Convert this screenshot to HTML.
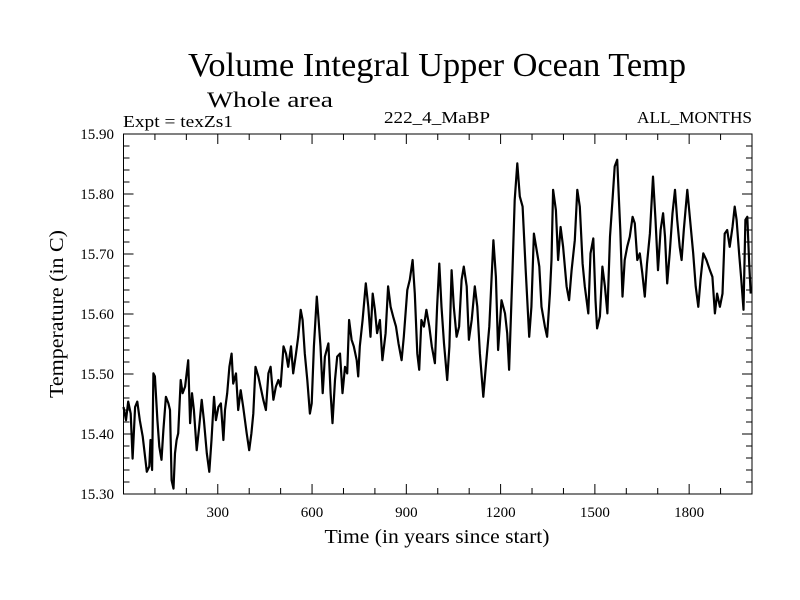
<!DOCTYPE html>
<html><head><meta charset="utf-8"><style>
html,body{margin:0;padding:0;background:#fff;}
svg{display:block;font-family:"Liberation Serif",serif;}
</style></head><body>
<svg id="chart" width="800" height="600" viewBox="0 0 800 600" xmlns="http://www.w3.org/2000/svg">
<rect width="800" height="600" fill="#fff"/>
<text x="188" y="76" font-size="34" textLength="498" lengthAdjust="spacingAndGlyphs">Volume Integral Upper Ocean Temp</text>
<text x="207" y="107" font-size="22" textLength="126" lengthAdjust="spacingAndGlyphs">Whole area</text>
<text x="123" y="127" font-size="17" textLength="110" lengthAdjust="spacingAndGlyphs">Expt = texZs1</text>
<text x="384" y="123" font-size="17" textLength="106" lengthAdjust="spacingAndGlyphs">222_4_MaBP</text>
<text x="637" y="123" font-size="17" textLength="115" lengthAdjust="spacingAndGlyphs">ALL_MONTHS</text>
<g id="axes"></g>
<path id="series" fill="none" stroke="#000" stroke-width="2.2" stroke-linejoin="round"/>
<text x="437" y="543" font-size="20" text-anchor="middle" textLength="225" lengthAdjust="spacingAndGlyphs">Time (in years since start)</text>
<text transform="translate(63,314) rotate(-90)" font-size="20" text-anchor="middle" textLength="168" lengthAdjust="spacingAndGlyphs">Temperature (in C)</text>
</svg>
<script>
const years=[0,8,15,23,29,37,44,52,61,74,82,86,91,95,100,108,114,121,127,135,143,148,153,159,164,169,174,182,188,196,206,212,218,224,233,241,249,256,265,273,280,288,294,302,310,318,323,330,337,344,349,358,365,373,381,392,400,407,413,420,429,436,445,453,461,468,477,485,493,500,509,517,524,533,540,549,556,564,570,577,585,593,599,606,615,621,627,634,641,652,
659,665,673,680,689,697,705,712,718,726,733,742,747,752,761,771,779,786,793,800,807,816,824,834,842,850,858,867,875,885,892,903,911,920,927,935,941,948,956,964,973,981,991,998,1005,1012,1020,1030,1037,1044,1051,1060,1068,1076,1083,1092,1099,1108,1118,1126,1134,1145,1153,1164,1171,1177,1185,1192,1203,1214,1221,1227,1238,1245,1253,1261,1270,1280,1291,1298,1306,1320,
1323,1330,1341,1348,1357,1362,1367,1376,1383,1391,1399,1410,1418,1426,1436,1444,1452,1461,1468,1479,1486,1495,1502,1507,1516,1524,1532,1540,1548,1556,1563,1571,1577,1581,1588,1595,1603,1611,1620,1627,1635,1643,1651,1659,1666,1675,1685,1693,1701,1709,1717,1723,1730,1738,1747,1755,1762,1770,1776,1783,1794,1802,1813,1821,1829,1836,1845,1855,1866,1874,1882,1889,1898,1906,1913,1921,1929,1938,1945,1951,1959,1966,1973,1979,1985,1991,1996];
const temps=[15.445,15.423,15.454,15.434,15.359,15.445,15.454,15.423,15.396,15.337,15.346,15.390,15.340,15.501,15.496,15.423,15.379,15.357,15.407,15.462,15.451,15.440,15.323,15.309,15.368,15.390,15.401,15.490,15.468,15.479,15.523,15.418,15.468,15.440,15.373,15.412,15.457,15.423,15.368,15.337,15.390,15.462,15.423,15.445,15.451,15.390,15.440,15.468,15.512,15.534,15.484,15.501,15.440,15.473,15.445,15.401,15.373,15.401,15.434,15.512,15.496,15.479,15.457,15.440,15.501,15.512,15.457,15.479,15.490,15.479,15.546,15.534,15.512,15.546,15.501,15.534,15.562,15.607,15.590,15.534,15.490,15.434,15.451,15.546,15.629,15.590,15.546,15.468,15.529,15.551,
15.468,15.418,15.490,15.529,15.534,15.468,15.512,15.501,15.590,15.557,15.546,15.523,15.496,15.546,15.590,15.651,15.612,15.562,15.634,15.607,15.568,15.590,15.523,15.568,15.646,15.612,15.596,15.579,15.551,15.523,15.562,15.640,15.657,15.690,15.634,15.534,15.507,15.590,15.579,15.607,15.579,15.546,15.518,15.612,15.684,15.612,15.551,15.490,15.546,15.673,15.612,15.562,15.579,15.657,15.679,15.646,15.557,15.590,15.646,15.612,15.534,15.462,15.512,15.579,15.657,15.723,15.662,15.540,15.623,15.601,15.568,15.507,15.673,15.790,15.851,15.796,15.779,15.673,15.562,15.612,15.734,15.690,
15.679,15.612,15.579,15.562,15.634,15.690,15.807,15.773,15.690,15.745,15.712,15.646,15.623,15.673,15.723,15.807,15.779,15.684,15.646,15.601,15.701,15.726,15.623,15.576,15.596,15.679,15.646,15.601,15.729,15.790,15.846,15.857,15.784,15.740,15.629,15.690,15.712,15.729,15.762,15.751,15.690,15.701,15.668,15.629,15.684,15.734,15.829,15.757,15.673,15.740,15.768,15.729,15.651,15.701,15.768,15.807,15.757,15.712,15.690,15.740,15.807,15.762,15.701,15.646,15.612,15.657,15.701,15.690,15.673,15.662,15.601,15.634,15.612,15.634,15.734,15.740,15.712,15.745,15.779,15.757,15.701,15.657,15.607,15.757,15.762,15.684,15.634];
const xTicks=[300,600,900,1200,1500,1800];
const yTicks=[15.30,15.40,15.50,15.60,15.70,15.80,15.90];

const L=123.5,R=752,T=134,B=494,X0=0,X1=2000,Y0=15.30,Y1=15.90;
function xs(v){return L+(v-X0)/(X1-X0)*(R-L);}
function ys(v){return B-(v-Y0)/(Y1-Y0)*(B-T);}
const NS="http://www.w3.org/2000/svg";
const ax=document.getElementById('axes');
function mk(tag,attrs){const e=document.createElementNS(NS,tag);for(const k in attrs)e.setAttribute(k,attrs[k]);return e;}
const frame=mk('rect',{x:L,y:T,width:R-L,height:B-T,fill:'none',stroke:'#000','stroke-width':1});


ax.appendChild(frame);
let d='';
for(let v=100;v<X1;v+=100){const x=xs(v);const len=(v%300===0)?10:6;d+=`M${x} ${B}v${-len}M${x} ${T}v${len}`;}
for(let i=1;i<30;i++){const v=Y0+i*0.02;const y=ys(v);const len=(i%5===0)?10:6;d+=`M${L} ${y}h${len}M${R} ${y}h${-len}`;}
const ticks=mk('path',{d:d,stroke:'#000','stroke-width':1,fill:'none'});


ax.appendChild(ticks);
xTicks.forEach(v=>{const t=mk('text',{x:xs(v),y:517,'font-size':15,'text-anchor':'middle'});


t.textContent=v;ax.appendChild(t);});
yTicks.forEach(v=>{const t=mk('text',{x:114,y:ys(v)+5,'font-size':15,'text-anchor':'end'});


t.textContent=v.toFixed(2);ax.appendChild(t);});
let p='';
for(let i=0;i<years.length;i++){p+=(i?'L':'M')+xs(years[i]).toFixed(1)+' '+ys(temps[i]).toFixed(1);}
document.getElementById('series').setAttribute('d',p);
</script>
</body></html>
